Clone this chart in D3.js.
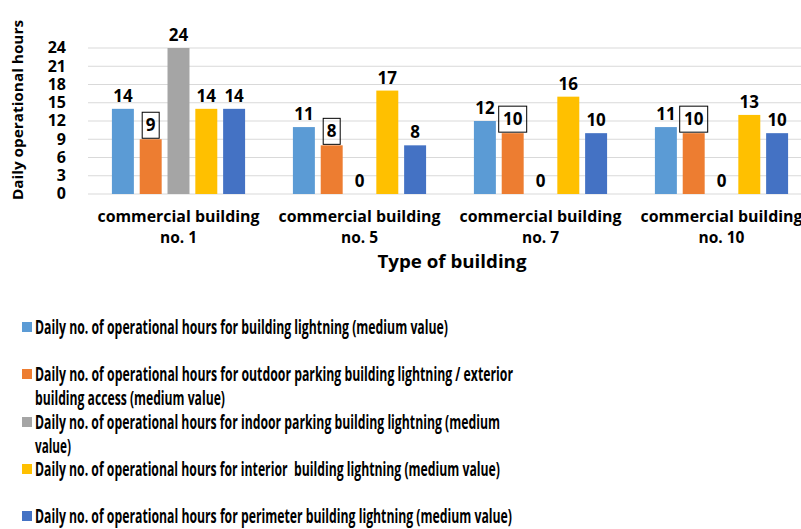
<!DOCTYPE html>
<html>
<head>
<meta charset="utf-8">
<script src="https://cdn.jsdelivr.net/npm/d3@7"></script>
<style>
  body { margin: 0; background: #fff; }
  svg { font-family: "Open Sans", sans-serif; font-weight: bold; }
</style>
</head>
<body>
<svg id="chart" width="801" height="529"></svg>
<script>
// chart data
const buildings = ['commercial building no. 1', 'commercial building no. 5', 'commercial building no. 7', 'commercial building no. 10'];
const seriesNames = [
  'Daily no. of operational hours for building lightning (medium value)',
  'Daily no. of operational hours for outdoor parking building lightning / exterior building access (medium value)',
  'Daily no. of operational hours for indoor parking building lightning (medium value)',
  'Daily no. of operational hours for interior  building lightning (medium value)',
  'Daily no. of operational hours for perimeter building lightning (medium value)'
];
const buildingLightning = [14, 11, 12, 11];
const outdoorParking = [9, 8, 10, 10];
const indoorParking = [24, 0, 0, 0];
const interiorLightning = [14, 17, 16, 13];
const perimeterLightning = [14, 8, 10, 10];
const yTicks = [0, 3, 6, 9, 12, 15, 18, 21, 24];
const colors = ['#5b9bd5', '#ed7d31', '#a5a5a5', '#ffc000', '#4472c4'];

const allSeries = [buildingLightning, outdoorParking, indoorParking, interiorLightning, perimeterLightning];

const svg = d3.select('#chart');

const x0 = d3.scaleBand()
  .domain(buildings)
  .range([88, 812]);

const x1 = d3.scaleBand()
  .domain(d3.range(seriesNames.length))
  .range([0, x0.bandwidth()])
  .paddingInner(0.21)
  .paddingOuter(0.86);

const y = d3.scaleLinear()
  .domain([0, 24])
  .range([194, 48]);

// grid lines
svg.append('g')
  .selectAll('line')
  .data(yTicks)
  .enter()
  .append('line')
  .attr('x1', 88)
  .attr('x2', 801)
  .attr('y1', d => y(d))
  .attr('y2', d => y(d))
  .attr('stroke', '#d9d9d9')
  .attr('stroke-width', 1);

// y axis labels
svg.append('g')
  .selectAll('text')
  .data(yTicks)
  .enter()
  .append('text')
  .attr('x', 66)
  .attr('y', d => y(d))
  .attr('dy', '0.34em')
  .attr('text-anchor', 'end')
  .attr('font-size', 16)
  .attr('fill', '#000')
  .text(d => d);

svg.append('text')
  .attr('transform', 'translate(23,110) rotate(-90)')
  .attr('text-anchor', 'middle')
  .attr('font-size', 15)
  .attr('textLength', 180)
  .attr('lengthAdjust', 'spacingAndGlyphs')
  .text('Daily operational hours');

// bars
const groups = svg.append('g')
  .selectAll('g')
  .data(buildings)
  .enter()
  .append('g')
  .attr('transform', d => `translate(${x0(d)},0)`);

groups.each(function (b, bi) {
  const g = d3.select(this);
  allSeries.forEach((vals, si) => {
    const v = vals[bi];
    const bx = x1(si);
    const cx = bx + x1.bandwidth() / 2;
    if (v > 0) {
      g.append('rect')
        .attr('x', bx)
        .attr('y', y(v))
        .attr('width', x1.bandwidth())
        .attr('height', y(0) - y(v))
        .attr('fill', colors[si]);
    }
    const label = g.append('text')
      .attr('x', cx)
      .attr('text-anchor', 'middle')
      .attr('font-size', 17)
      .attr('fill', '#000')
      .text(v);
    if (si === 1) {
      // boxed labels for outdoor parking series
      const w = String(v).length > 1 ? 28 : 17;
      g.append('rect')
        .attr('x', cx - w / 2)
        .attr('y', y(v) - 27)
        .attr('width', w)
        .attr('height', 26)
        .attr('fill', 'none')
        .attr('stroke', '#000')
        .attr('stroke-width', 1);
      label.attr('y', y(v) - 8);
    } else {
      label.attr('y', y(v) - 7);
    }
  });
});

// category labels
groups.append('text')
  .attr('x', x0.bandwidth() / 2)
  .attr('y', 222)
  .attr('text-anchor', 'middle')
  .attr('font-size', 15.5)
  .attr('textLength', 162)
  .attr('lengthAdjust', 'spacingAndGlyphs')
  .text('commercial building');

groups.append('text')
  .attr('x', x0.bandwidth() / 2)
  .attr('y', 243)
  .attr('text-anchor', 'middle')
  .attr('font-size', 15.5)
  .text(d => d.replace('commercial building ', ''));

svg.append('text')
  .attr('x', 452)
  .attr('y', 268)
  .attr('text-anchor', 'middle')
  .attr('font-size', 17)
  .attr('textLength', 149)
  .attr('lengthAdjust', 'spacingAndGlyphs')
  .text('Type of building');

// legend
const legendRows = [
  { si: 0, lines: [seriesNames[0]], y: 327, w: [413] },
  { si: 1, lines: ['Daily no. of operational hours for outdoor parking building lightning / exterior', 'building access (medium value)'], y: 374, w: [478, 190] },
  { si: 2, lines: ['Daily no. of operational hours for indoor parking building lightning (medium', 'value)'], y: 422, w: [465, 36] },
  { si: 3, lines: [seriesNames[3]], y: 469, w: [465] },
  { si: 4, lines: [seriesNames[4]], y: 516, w: [477] }
];

const legend = svg.append('g')
  .selectAll('g')
  .data(legendRows)
  .enter()
  .append('g');

legend.append('rect')
  .attr('x', 22)
  .attr('y', d => d.y - 5)
  .attr('width', 10)
  .attr('height', 10)
  .attr('fill', d => colors[d.si]);

legend.each(function (d) {
  const g = d3.select(this);
  d.lines.forEach((t, i) => {
    g.append('text')
      .attr('x', 35)
      .attr('y', d.y + i * 24)
      .attr('dy', '0.35em')
      .attr('font-size', 19)
      .attr('textLength', d.w[i])
      .attr('lengthAdjust', 'spacingAndGlyphs')
      .attr('xml:space', 'preserve')
      .text(t);
  });
});
</script>
</body>
</html>
